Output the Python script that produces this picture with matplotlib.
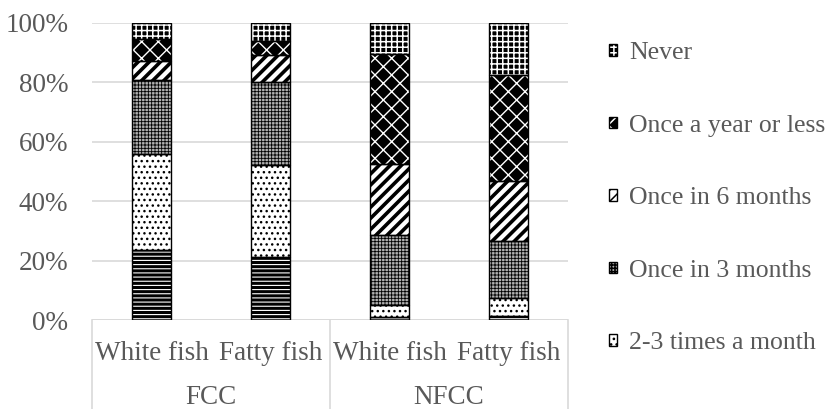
import numpy as np
import matplotlib

matplotlib.use("Agg")
import matplotlib.pyplot as plt
from matplotlib.lines import Line2D
from matplotlib.patches import Rectangle
from matplotlib.legend_handler import HandlerTuple

# Data (percent of respondents)
bars = ['White fish', 'Fatty fish', 'White fish', 'Fatty fish']
groups = ['FCC', 'NFCC']
series = ['Once a week or more', '2-3 times a month', 'Once in 3 months',
          'Once in 6 months', 'Once a year or less', 'Never']
bottom_seg = [23.6, 21.1, 1.1, 1.5]
two_three = [32.2, 31.0, 4.1, 5.8]
three_months = [25.0, 28.2, 23.5, 19.3]
six_months = [6.5, 9.0, 23.7, 20.2]
year_or_less = [7.4, 4.8, 37.2, 35.7]
never = [5.3, 5.9, 10.4, 17.5]
values = [bottom_seg, two_three, three_months, six_months, year_or_less, never]

# face colour, hatch colour, hatch pattern, hatch line width
styles = [
    ('black', 'white', '----', 0.8),
    ('white', 'black', '...', 1.0),
    ('#b0b0b0', 'black', '+++++', 0.6),
    ('white', 'black', '///', 2.6),
    ('black', 'white', 'xx', 1.0),
    ('black', 'white', '+++', 1.1),
]

plt.rcParams['font.family'] = ['Liberation Serif', 'DejaVu Serif']
text_col = '#595959'
grid_col = '#d9d9d9'
fs = 19.5

fig = plt.figure(figsize=(8.32, 4.09), dpi=100)
ax = fig.add_axes([92 / 832, 1 - 320 / 409, 476 / 832, 297 / 409])

x = np.arange(len(bars))
width = 0.33
totals = np.zeros(len(bars))
handles = []
for name, vals, (fc, hc, h, hlw) in zip(series, values, styles):
    vals = np.array(vals)
    plt.rcParams['hatch.linewidth'] = hlw
    b = ax.bar(x, vals, width, bottom=totals, color=fc, edgecolor=hc,
               hatch=h, linewidth=0, zorder=2)
    for p in b:
        if hasattr(p, 'set_hatch_linewidth'):
            p.set_hatch_linewidth(hlw)
    ax.bar(x, vals, width, bottom=totals, fill=False, edgecolor='black',
           linewidth=1.0, zorder=3)
    # legend swatch: hatched square plus black outline
    sw = Rectangle((0, 0), 1, 1, facecolor=fc, edgecolor=hc, hatch=h,
                   linewidth=0)
    if hasattr(sw, 'set_hatch_linewidth'):
        sw.set_hatch_linewidth(hlw)
    outline = Rectangle((0, 0), 1, 1, fill=False, edgecolor='black',
                        linewidth=1.0)
    handles.append(((sw, outline), name))
    totals += vals

ax.set_xlim(-0.5, 3.5)
ax.set_ylim(0, 100)
ax.set_yticks(np.arange(0, 101, 20))
ax.set_yticklabels([f'{v}%' for v in range(0, 101, 20)])
ax.tick_params(axis='y', length=0, pad=17, labelsize=fs, labelcolor=text_col)
ax.set_xticks([])
ax.grid(axis='y', color=grid_col, linewidth=1.2, zorder=0)
for s in ax.spines.values():
    s.set_visible(False)

# two-level category axis
ax.axhline(0, color=grid_col, linewidth=1.2, zorder=1)
trans = ax.get_xaxis_transform()
for xv in [-0.5, 1.5, 3.5]:
    ax.add_line(Line2D([xv, xv], [0, -89 / 297], transform=trans,
                       color=grid_col, linewidth=1.2, clip_on=False))
for xi, lab in zip(x, bars):
    ax.text(xi, -33 / 297, lab, transform=trans, ha='center', va='center',
            fontsize=fs, color=text_col)
for gi, g in enumerate(groups):
    ax.text(gi * 2 + 0.5, -77 / 297, g, transform=trans, ha='center',
            va='center', fontsize=fs, color=text_col)

# legend: top series first, bottom series left out
leg_fs = 18.5
leg_h = [h for h, n in handles[1:]][::-1]
leg_n = [n for h, n in handles[1:]][::-1]
leg = fig.legend(leg_h, leg_n, loc='upper left',
                 bbox_to_anchor=(609 / 832, 1 - 42 / 409), frameon=False,
                 fontsize=leg_fs, handlelength=0.32, handleheight=0.32,
                 handletextpad=0.45, labelspacing=1.97, borderaxespad=0,
                 borderpad=0, handler_map={tuple: HandlerTuple(ndivide=1)})
for t in leg.get_texts():
    t.set_color(text_col)

fig.savefig('out.png', dpi=100)
